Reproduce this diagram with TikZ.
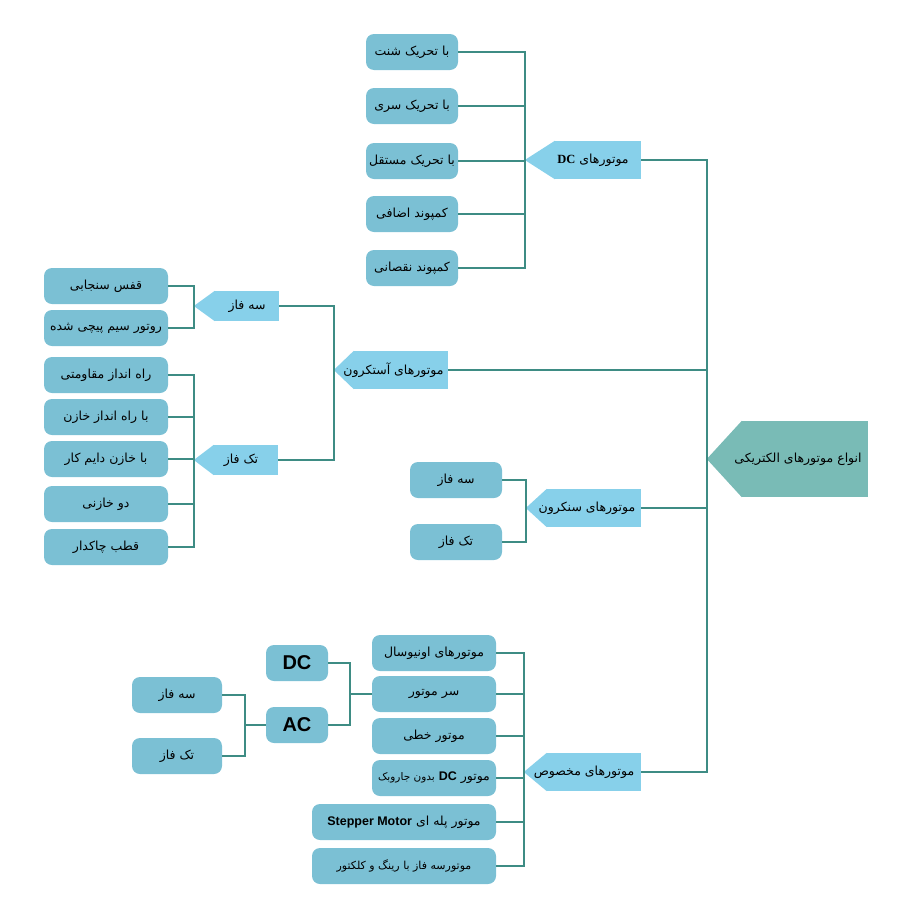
\documentclass[tikz,border=0pt]{standalone}
\usepackage{fontspec}
\usetikzlibrary{backgrounds}
\TeXXeTstate=1
\newfontfamily\fa[Script=Arabic]{DejaVu Sans}
\newfontfamily\latserif{Liberation Serif}
\newfontfamily\latsans{Liberation Sans}
\definecolor{boxc}{HTML}{7BC0D4}
\definecolor{tagc}{HTML}{87D0EA}
\definecolor{rootc}{HTML}{79BBB6}
\definecolor{linec}{HTML}{3E8C84}
\tikzset{
  box/.style={fill=boxc,rounded corners=8pt,minimum height=36pt,inner sep=0pt,font=\fa\fontsize{12.5}{14}\selectfont},
  tag/.style={fill=tagc,minimum height=38pt,inner sep=0pt,font=\fa\fontsize{12.5}{14}\selectfont},
  link/.style={draw=linec,line width=2pt},
}
\newcommand{\fatx}[1]{\beginR #1\endR}
% tag text may run into the tip, shifted left by half of #1
\newcommand{\tagtx}[2][12]{\makebox[0pt]{\beginR #2\endR\hspace{#1pt}}}
\newcommand{\tagtip}[3]{\begin{pgfonlayer}{background}\fill[#3] (#1.north west) -- ([xshift=-#2pt]#1.west) coordinate (#1-tip) -- (#1.south west) -- cycle;\end{pgfonlayer}}
\begin{document}
\begin{tikzpicture}[x=1pt,y=-1pt]
\useasboundingbox (0,0) rectangle (900,900);
% root
\node[tag,fill=rootc,minimum width=126pt,minimum height=76pt] (root) at (805,459) {\tagtx[14]{انواع موتورهای الکتریکی}};
\tagtip{root}{35}{rootc}
% main branches
\node[tag,minimum width=86pt] (dcm) at (598,160) {\tagtx[10]{موتورهای \beginL{\latserif\bfseries DC}\endL}};
\tagtip{dcm}{30}{tagc}
\node[tag,minimum width=94pt] (asy) at (401,370) {\tagtx[15]{موتورهای آستکرون}};
\tagtip{asy}{20}{tagc}
\node[tag,minimum width=94pt] (syn) at (594,508) {\tagtx[14]{موتورهای سنکرون}};
\tagtip{syn}{21}{tagc}
\node[tag,minimum width=94pt] (spc) at (594,772) {\tagtx[20]{موتورهای مخصوص}};
\tagtip{spc}{23}{tagc}
\draw[link] (dcm.east) -| (root-tip);
\draw[link] (asy.east) -| (root-tip);
\draw[link] (syn.east) -| (root-tip);
\draw[link] (spc.east) -| (root-tip);
% DC motors
\node[box,minimum width=92pt] (dc1) at (412,52) {\fatx{با تحریک شنت}};
\node[box,minimum width=92pt] (dc2) at (412,106) {\fatx{با تحریک سری}};
\node[box,minimum width=92pt] (dc3) at (412,161) {\fatx{با تحریک مستقل}};
\node[box,minimum width=92pt] (dc4) at (412,214) {\fatx{کمپوند اضافی}};
\node[box,minimum width=92pt] (dc5) at (412,268) {\fatx{کمپوند نقصانی}};
\foreach \n in {dc1,dc2,dc3,dc4,dc5}
  \draw[link] (\n.east) -| (dcm-tip);
% asynchronous motors
\node[tag,minimum width=64pt,minimum height=30pt] (as3) at (247,306) {\tagtx[0]{سه فاز}};
\tagtip{as3}{21}{tagc}
\node[tag,minimum width=64pt,minimum height=30pt] (as1) at (246,460) {\tagtx[10]{تک فاز}};
\tagtip{as1}{20}{tagc}
\draw[link] (as3.east) -| (asy-tip);
\draw[link] (as1.east) -| (asy-tip);
\node[box,minimum width=124pt] (tp1) at (106,286) {\fatx{قفس سنجابی}};
\node[box,minimum width=124pt] (tp2) at (106,328) {\fatx{روتور سیم پیچی شده}};
\foreach \n in {tp1,tp2}
  \draw[link] (\n.east) -| (as3-tip);
\node[box,minimum width=124pt] (sp1) at (106,375) {\fatx{راه انداز مقاومتی}};
\node[box,minimum width=124pt] (sp2) at (106,417) {\fatx{با راه انداز خازن}};
\node[box,minimum width=124pt] (sp3) at (106,459) {\fatx{با خازن دایم کار}};
\node[box,minimum width=124pt] (sp4) at (106,504) {\fatx{دو خازنی}};
\node[box,minimum width=124pt] (sp5) at (106,547) {\fatx{قطب چاکدار}};
\foreach \n in {sp1,sp2,sp3,sp4,sp5}
  \draw[link] (\n.east) -| (as1-tip);
% synchronous motors
\node[box,minimum width=92pt] (sy3) at (456,480) {\fatx{سه فاز}};
\node[box,minimum width=92pt] (sy1) at (456,542) {\fatx{تک فاز}};
\draw[link] (sy3.east) -| (syn-tip);
\draw[link] (sy1.east) -| (syn-tip);
% special motors
\node[box,minimum width=124pt] (m1) at (434,653) {\fatx{موتورهای اونیوسال}};
\node[box,minimum width=124pt] (m2) at (434,694) {\fatx{سر موتور}};
\node[box,minimum width=124pt] (m3) at (434,736) {\fatx{موتور خطی}};
\node[box,minimum width=124pt] (m4) at (434,778) {\fatx{موتور \beginL{\latsans\bfseries DC}\endL{} {\fontsize{10.5}{12}\selectfont بدون جاروبک}}};
\node[box,minimum width=184pt] (m5) at (404,822) {\fatx{موتور پله ای \beginL{\latsans\bfseries Stepper Motor}\endL}};
\node[box,minimum width=184pt] (m6) at (404,866) {\fatx{{\fontsize{11}{12}\selectfont موتورسه فاز با رینگ و کلکتور}}};
\foreach \n in {m1,m2,m3,m4,m5,m6}
  \draw[link] (\n.east) -| (spc-tip);
\node[box,minimum width=62pt,font=\latsans\bfseries\fontsize{20}{22}\selectfont] (dcb) at (297,663) {DC};
\node[box,minimum width=62pt,font=\latsans\bfseries\fontsize{20}{22}\selectfont] (acb) at (297,725) {AC};
\coordinate (j1) at (350,694);
\draw[link] (dcb.east) -| (j1);
\draw[link] (acb.east) -| (j1);
\draw[link] (j1) -- (m2.west);
\node[box,minimum width=90pt] (ac3) at (177,695) {\fatx{سه فاز}};
\node[box,minimum width=90pt] (ac1) at (177,756) {\fatx{تک فاز}};
\coordinate (j2) at (245,725);
\draw[link] (ac3.east) -| (j2);
\draw[link] (ac1.east) -| (j2);
\draw[link] (j2) -- (acb.west);
\end{tikzpicture}
\end{document}
